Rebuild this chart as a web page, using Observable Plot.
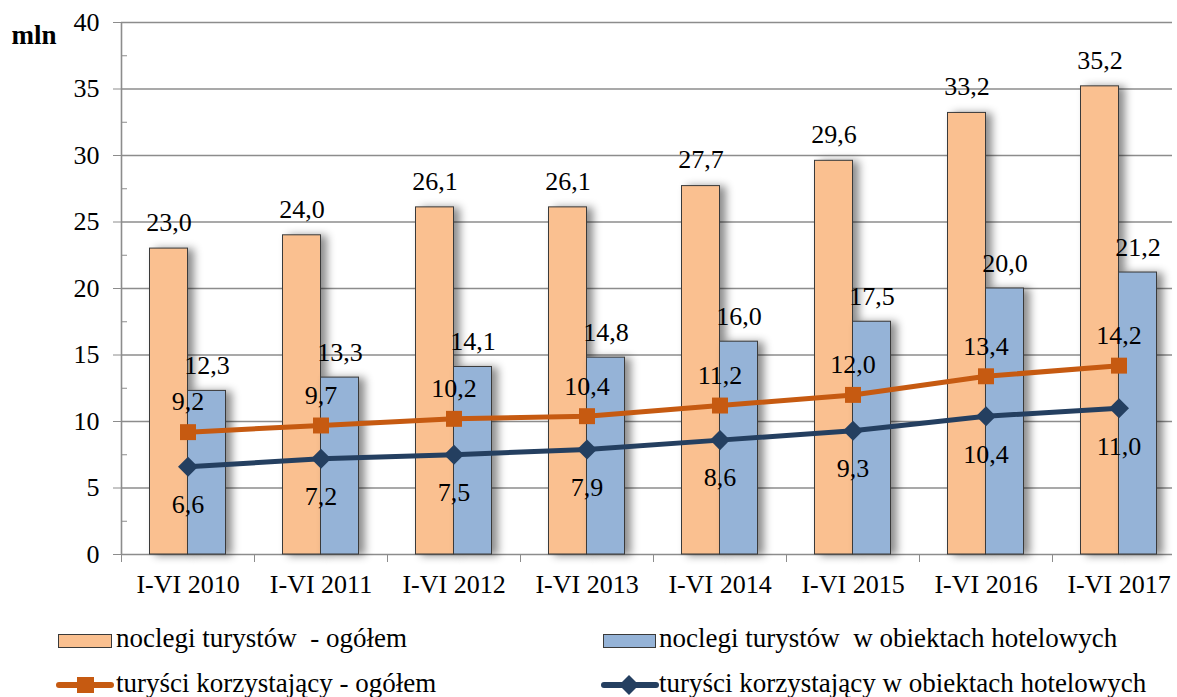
<!DOCTYPE html>
<html>
<head>
<meta charset="utf-8">
<script src="https://cdn.jsdelivr.net/npm/d3@7"></script>
<script src="https://cdn.jsdelivr.net/npm/@observablehq/plot@0.6"></script>
<style>
  html, body { margin: 0; padding: 0; background: #fff; overflow: hidden; }
  #wrap { position: relative; width: 1177px; height: 697px; font-family: "Liberation Serif", "Times New Roman", serif; }
  .lg { position: absolute; font-family: "Liberation Serif", "Times New Roman", serif; font-size: 27px; line-height: 27px; white-space: pre; color: #000; }
  .sw { position: absolute; }
  svg text { font-family: "Liberation Serif", "Times New Roman", serif; }
</style>
</head>
<body>
<div id="wrap"></div>
<script>
const categories = ["I-VI 2010", "I-VI 2011", "I-VI 2012", "I-VI 2013", "I-VI 2014", "I-VI 2015", "I-VI 2016", "I-VI 2017"];
const noclegiOgolem = [23.0, 24.0, 26.1, 26.1, 27.7, 29.6, 33.2, 35.2];
const noclegiHotel = [12.3, 13.3, 14.1, 14.8, 16.0, 17.5, 20.0, 21.2];
const turysciOgolem = [9.2, 9.7, 10.2, 10.4, 11.2, 12.0, 13.4, 14.2];
const turysciHotel = [6.6, 7.2, 7.5, 7.9, 8.6, 9.3, 10.4, 11.0];
const yTicks = [0, 5, 10, 15, 20, 25, 30, 35, 40];
const yMinorTicks = [2.5, 7.5, 12.5, 17.5, 22.5, 27.5, 32.5, 37.5];
const seriesNames = ["noclegi turystów  - ogółem", "noclegi turystów  w obiektach hotelowych", "turyści korzystający - ogółem", "turyści korzystający w obiektach hotelowych"];

const C = {orangeBar: "#FAC090", blueBar: "#95B3D7", barStroke: "#3a3a3a", orangeLine: "#C65A11", navyLine: "#243F60", grid: "#8c8c8c"};

const rows = arr => categories.map((c, i) => ({c, v: arr[i]}));
const fmt = v => v.toFixed(1).replace(".", ",");

const W = 1177, H = 600, mL = 121, mR = -8, mT = 22, mB = 46;
const bw = (W - mL - mR) / categories.length;
const barW = 38;

const plot = Plot.plot({
  width: W, height: H,
  marginLeft: mL, marginRight: mR, marginTop: mT, marginBottom: mB,
  style: {fontFamily: "'Liberation Serif', 'Times New Roman', serif", fontSize: "26px", color: "#000", background: "#fff"},
  x: {domain: categories, padding: 0, label: null},
  y: {domain: [0, 40], label: null},
  marks: [
    Plot.gridY({ticks: yTicks.filter(t => t > 0), stroke: C.grid, strokeOpacity: 1, strokeWidth: 1.6, insetRight: 13}),
    Plot.ruleY([0], {stroke: C.grid, strokeWidth: 1.6, insetRight: 13}),
    Plot.ruleX([categories[0]], {y1: 0, y2: 40, dx: -bw / 2, stroke: C.grid, strokeWidth: 1.6}),
    Plot.axisY({ticks: yTicks, tickSize: 8, tickPadding: 14, stroke: C.grid, fill: "#000", tickFormat: d => String(d), fontSize: 26}),
    Plot.axisY({ticks: yMinorTicks, tickSize: 6, dx: 6, stroke: C.grid, tickFormat: () => ""}),
    Plot.axisX({tickSize: 8, dx: -bw / 2, stroke: C.grid, tickFormat: () => ""}),
    Plot.axisX({tickSize: 0, tickPadding: 20, fill: "#000", fontSize: 26}),
    Plot.barY(rows(noclegiOgolem), {x: "c", y: "v", fill: C.orangeBar, stroke: C.barStroke, strokeWidth: 1, insetLeft: bw / 2 - barW, insetRight: bw / 2}),
    Plot.barY(rows(noclegiHotel), {x: "c", y: "v", fill: C.blueBar, stroke: C.barStroke, strokeWidth: 1, insetLeft: bw / 2, insetRight: bw / 2 - barW}),
    Plot.text(rows(noclegiOgolem), {x: "c", y: "v", text: d => fmt(d.v), dx: -barW / 2, dy: -26, fontSize: 26, fill: "#000"}),
    Plot.text(rows(noclegiHotel), {x: "c", y: "v", text: d => fmt(d.v), dx: barW / 2, dy: -25, fontSize: 26, fill: "#000"}),
    Plot.line(rows(turysciOgolem), {x: "c", y: "v", stroke: C.orangeLine, strokeWidth: 5}),
    Plot.line(rows(turysciHotel), {x: "c", y: "v", stroke: C.navyLine, strokeWidth: 5}),
    Plot.dot(rows(turysciOgolem), {x: "c", y: "v", symbol: "square", r: 9, fill: C.orangeLine, stroke: "none"}),
    Plot.dot(rows(turysciHotel), {x: "c", y: "v", symbol: "square", rotate: 45, r: 8, fill: C.navyLine, stroke: "none"}),
    Plot.text(rows(turysciOgolem), {x: "c", y: "v", text: d => fmt(d.v), dy: -30, fontSize: 26, fill: "#000"}),
    Plot.text(rows(turysciHotel), {x: "c", y: "v", text: d => fmt(d.v), dy: 38, fontSize: 26, fill: "#000"}),
    Plot.text(["mln"], {frameAnchor: "top-left", dx: -110, dy: 2, textAnchor: "start", fontWeight: "bold", fontSize: 27, fill: "#000"})
  ]
});

plot.querySelectorAll('g[aria-label="bar"]').forEach(g => {
  g.style.filter = "drop-shadow(6px 1px 4px rgba(0,0,0,0.45))";
});

const wrap = document.getElementById("wrap");
plot.style.position = "absolute";
plot.style.left = "0px";
plot.style.top = "0px";
wrap.appendChild(plot);

// Legend
function addSwatch(html, left, top, w, h) {
  const d = document.createElement("div");
  d.className = "sw";
  d.style.left = left + "px"; d.style.top = top + "px";
  d.style.width = w + "px"; d.style.height = h + "px";
  d.innerHTML = html;
  wrap.appendChild(d);
}
function addLabel(text, left, top) {
  const d = document.createElement("div");
  d.className = "lg";
  d.style.left = left + "px"; d.style.top = top + "px";
  d.textContent = text;
  wrap.appendChild(d);
}
addSwatch(`<svg width="54" height="15"><rect x="0.5" y="0.5" width="53" height="13" fill="${C.orangeBar}" stroke="${C.barStroke}" stroke-width="1"/></svg>`, 58, 634, 54, 15);
addLabel(seriesNames[0], 116, 625);
addSwatch(`<svg width="54" height="15"><rect x="0.5" y="0.5" width="52" height="13" fill="${C.blueBar}" stroke="${C.barStroke}" stroke-width="1"/></svg>`, 603, 634, 54, 15);
addLabel(seriesNames[1], 659, 625);
addSwatch(`<svg width="60" height="20"><line x1="3" y1="10" x2="55" y2="10" stroke="${C.orangeLine}" stroke-width="6" stroke-linecap="round"/><rect x="21" y="2" width="17" height="16" fill="${C.orangeLine}"/></svg>`, 56, 675, 60, 20);
addLabel(seriesNames[2], 116, 670);
addSwatch(`<svg width="60" height="22"><line x1="3" y1="11" x2="55" y2="11" stroke="${C.navyLine}" stroke-width="6" stroke-linecap="round"/><path d="M28,1 L38,11 L28,21 L18,11 Z" fill="${C.navyLine}"/></svg>`, 601, 674, 60, 22);
addLabel(seriesNames[3], 659, 670);
</script>
</body>
</html>
